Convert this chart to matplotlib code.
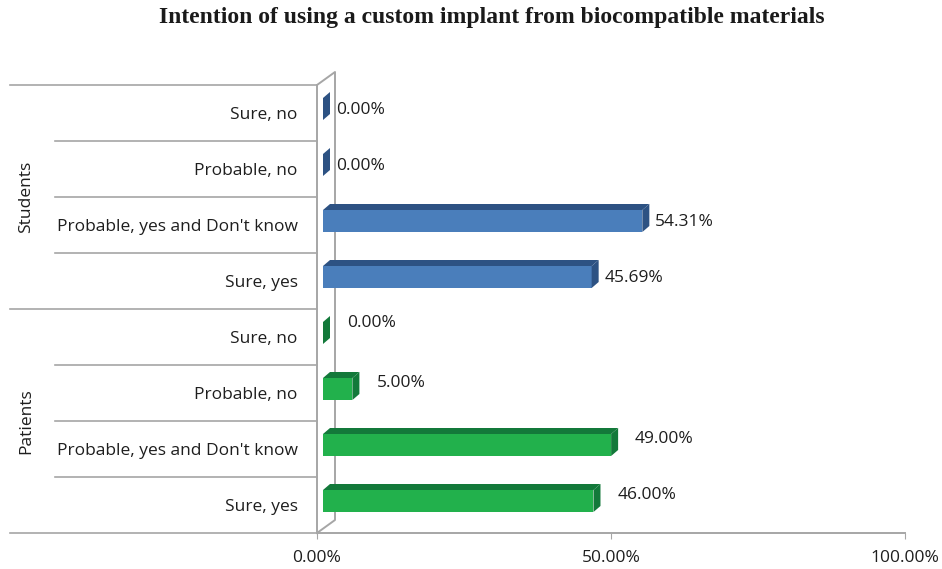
import matplotlib.pyplot as plt
import matplotlib.transforms as mtransforms
from matplotlib.patches import Polygon, Rectangle

# data
groups = ["Patients", "Students"]
categories = ["Sure, yes", "Probable, yes and Don't know", "Probable, no", "Sure, no"]
patients = [46.00, 49.00, 5.00, 0.00]
students = [45.69, 54.31, 0.00, 0.00]
xticks = [0, 50, 100]

face_colors = {"Patients": "#22B14C", "Students": "#4A7EBB"}
dark_colors = {"Patients": "#13793A", "Students": "#2D5283"}
line_col = "#A6A6A6"
text_col = "#1E1E1E"
FS = 12.5

plt.rcParams['font.family'] = ['Open Sans', 'DejaVu Sans']

W, H = 942, 569
fig = plt.figure(figsize=(W / 100, H / 100), dpi=100)
# plot area in pixels: x 317..905, y 85..533
ax = fig.add_axes([317 / W, (H - 533) / H, 588 / W, 448 / H])
ax.set_xlim(0, 100)
ax.set_ylim(-0.5, 7.5)

px_x = 588 / 100.0   # pixels per percent
px_y = 448 / 8.0     # pixels per row

start = 6 / px_x      # bars begin a bit right of the axis (3d look)
ddx = 7 / px_x        # depth offset
ddy = 6 / px_y
bar_h = 22 / px_y
shift = 4 / px_y

all_vals = patients + students
labels = categories + categories
grp = ["Patients"] * 4 + ["Students"] * 4

for i, (v, g) in enumerate(zip(all_vals, grp)):
    c = i + shift
    b, t = c - bar_h / 2, c + bar_h / 2
    x0, x1 = start, start + v
    fc, dc = face_colors[g], dark_colors[g]
    ax.add_patch(Rectangle((x0, b), v, bar_h, facecolor=fc, edgecolor="none", zorder=3))
    ax.add_patch(Polygon([(x0, t), (x1, t), (x1 + ddx, t + ddy), (x0 + ddx, t + ddy)],
                         closed=True, facecolor=dc, edgecolor="none", zorder=3))
    ax.add_patch(Polygon([(x1, b), (x1 + ddx, b + ddy), (x1 + ddx, t + ddy), (x1, t)],
                         closed=True, facecolor=dc, edgecolor="none", zorder=3))
    if g == "Students":
        off = (13, 3)
    else:
        off = (24, 10 if v > 0 else 14)
    ax.annotate(f"{v:.2f}%", xy=(x1, i), xytext=(off[0] * 0.72, off[1] * 0.72),
                textcoords="offset points", ha="left", va="center",
                fontsize=FS, color=text_col)

# back wall
bx = 18 / px_x
by = 13 / px_y
ax.plot([0, bx, bx, 0], [7.5, 7.5 + by, -0.5 + by, -0.5], color=line_col, lw=1.4,
        clip_on=False, zorder=2)

for s in ["top", "right"]:
    ax.spines[s].set_visible(False)
ax.spines["left"].set_color(line_col)
ax.spines["bottom"].set_color(line_col)
ax.spines["left"].set_linewidth(1.4)
ax.spines["bottom"].set_linewidth(1.4)

ax.set_xticks(xticks)
ax.set_xticklabels([f"{x:.2f}%" for x in xticks], fontsize=FS, color=text_col)
ax.tick_params(axis="x", length=4, color=line_col, pad=8)

ax.set_yticks(range(8))
ax.set_yticklabels(labels, fontsize=FS, color=text_col)
ax.tick_params(axis="y", length=0, pad=14)

# table-like lines on the left
trans = mtransforms.blended_transform_factory(ax.transAxes, ax.transData)
for y in [-0.5, 3.5, 7.5]:
    ax.plot([(10 - 317) / 588, 0], [y, y], color=line_col, lw=1.2, transform=trans, clip_on=False)
for y in [0.5, 1.5, 2.5, 4.5, 5.5, 6.5]:
    ax.plot([(55 - 317) / 588, 0], [y, y], color=line_col, lw=1.2, transform=trans, clip_on=False)
for gi, g in enumerate(groups):
    ax.text((26 - 317) / 588, 1.5 + 4 * gi, g, transform=trans, rotation=90,
            ha="center", va="center", fontsize=FS, color=text_col)

fig.text(492 / W, 1 - 17 / H, "Intention of using a custom implant from biocompatible materials",
         ha="center", va="center", fontsize=17, fontweight="bold",
         family="Liberation Serif", color="#1A1A1A")

fig.savefig("out.png", dpi=100)
